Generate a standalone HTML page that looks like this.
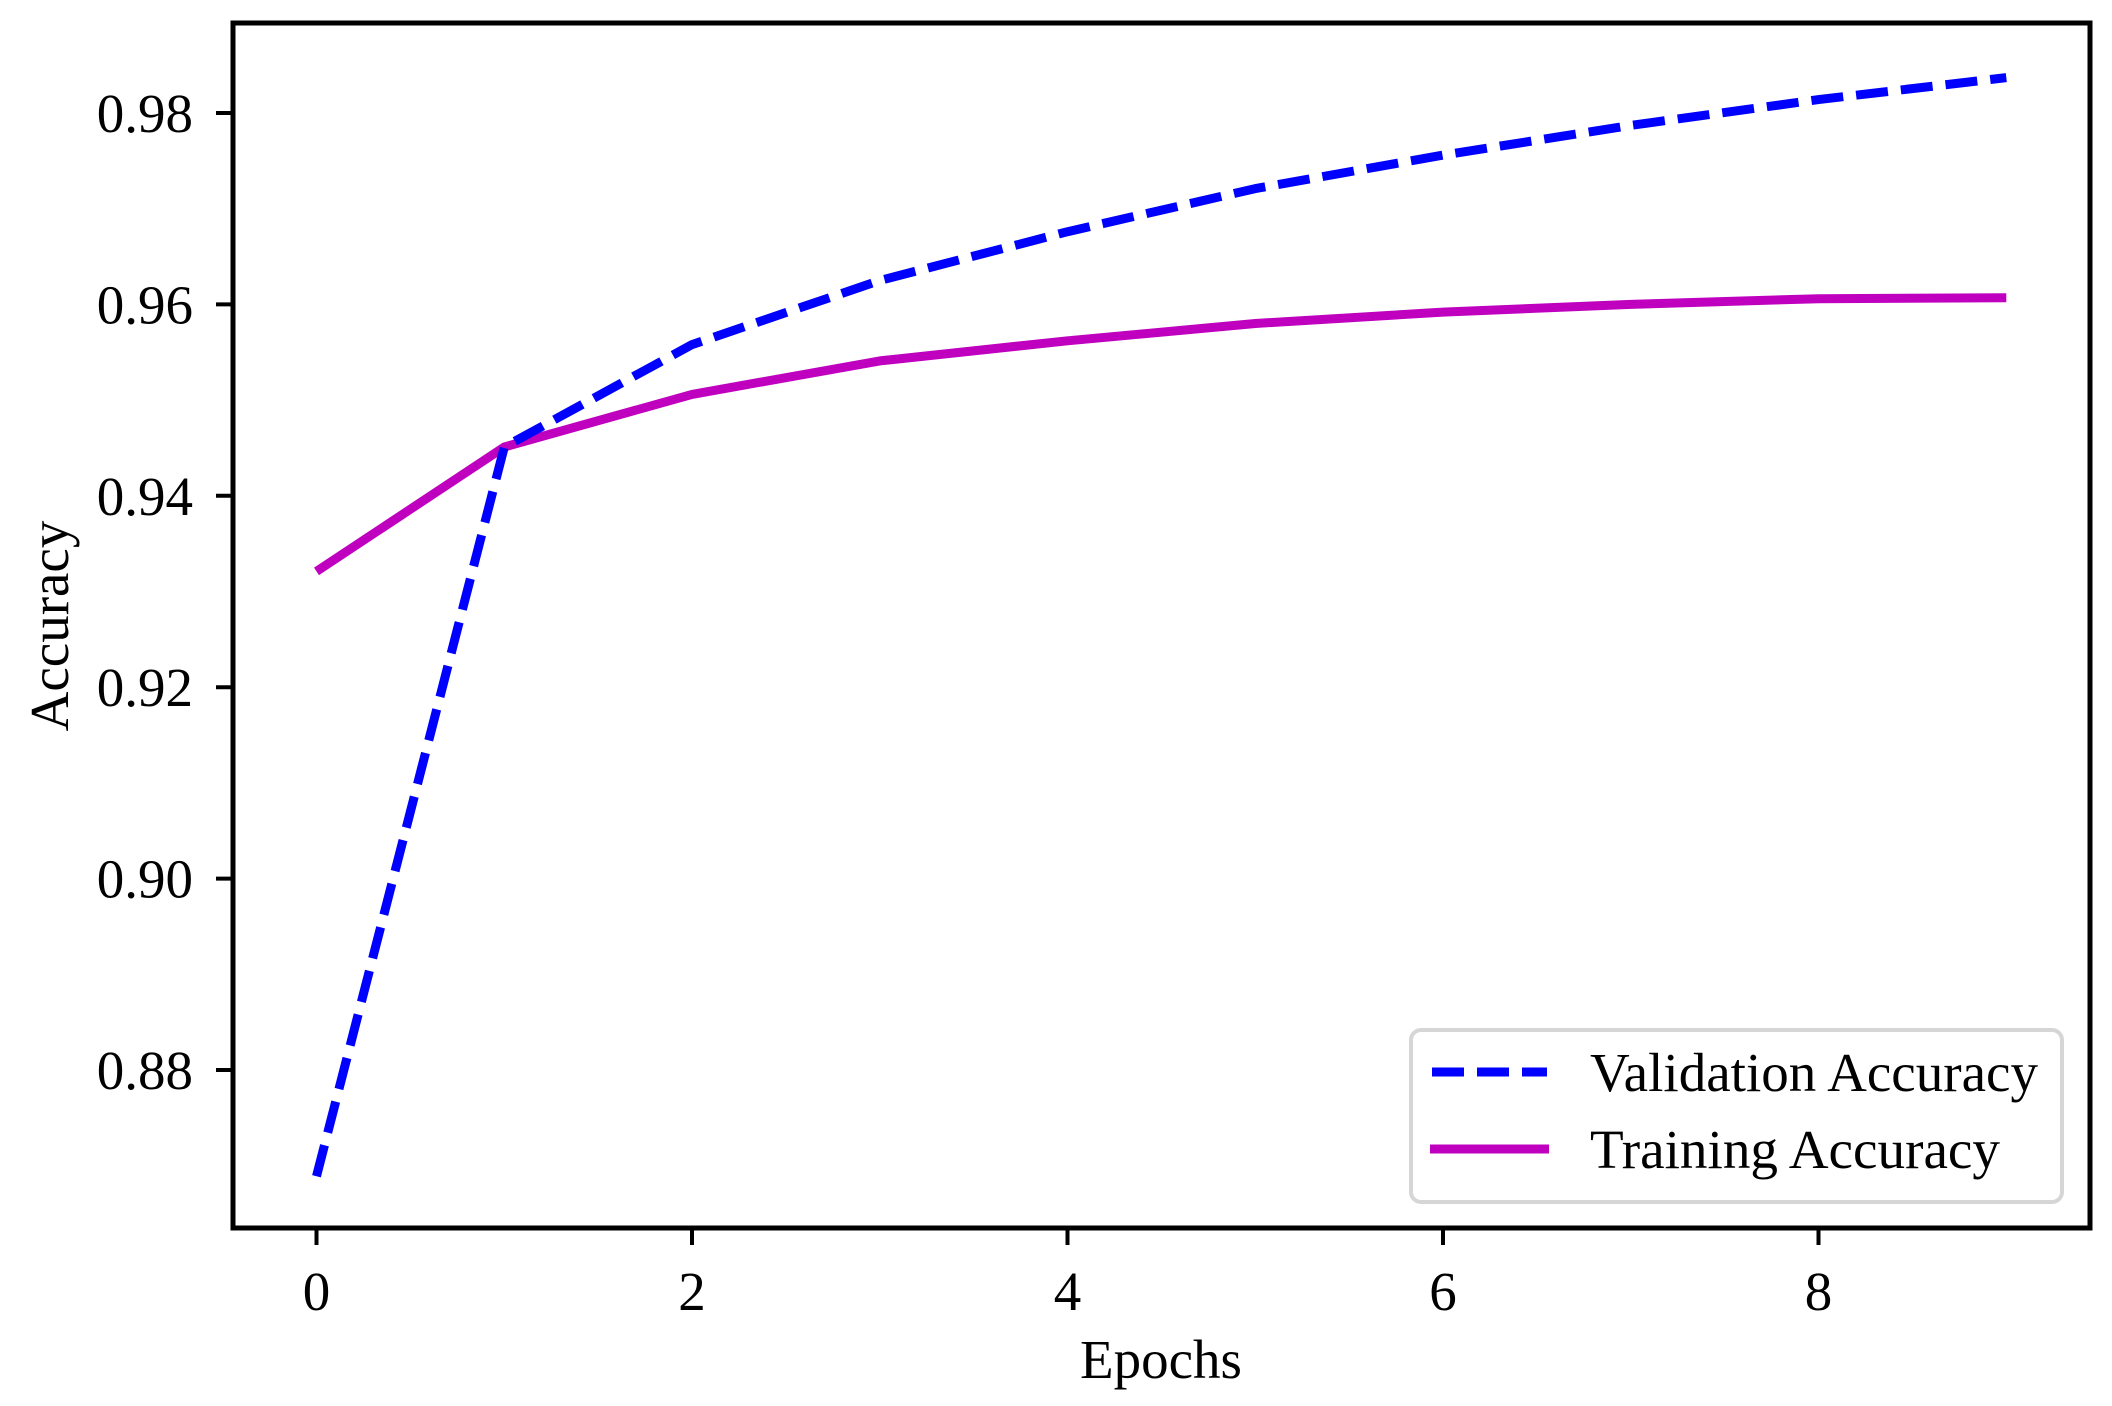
<!DOCTYPE html>
<html><head><meta charset="utf-8"><style>
html,body{margin:0;padding:0;background:#fff;}
svg{display:block;}
text{font-family:"Liberation Serif","DejaVu Serif",serif;fill:#000;}
</style></head><body>
<svg id="chart" width="2112" height="1406" viewBox="0 0 2112 1406" xmlns="http://www.w3.org/2000/svg">
<rect width="2112" height="1406" fill="#fff"/>
<g id="plot"></g>
</svg>
<script>
const epochs=[0,1,2,3,4,5,6,7,8,9];
const validationAcc=[0.8689,0.9451,0.9558,0.9625,0.9676,0.9721,0.9756,0.9787,0.9814,0.9837];
const trainingAcc=[0.9321,0.9451,0.9506,0.9541,0.9562,0.9580,0.9592,0.9600,0.9606,0.9607];
const xTicks=[0,2,4,6,8];
const yTicks=[0.88,0.90,0.92,0.94,0.96,0.98];
const yTickLabels=["0.88","0.90","0.92","0.94","0.96","0.98"];

const L=233,R=2090,T=23,B=1228;
function xs(v){return 316.5+(v-0)*187.75;}
function ys(v){return 113+(0.98-v)*9570;}
const NS="http://www.w3.org/2000/svg";
const g=document.getElementById('plot');
function el(tag,attrs,parent){const e=document.createElementNS(NS,tag);for(const k in attrs)e.setAttribute(k,attrs[k]);(parent||g).appendChild(e);return e;}

function line(data,color,dash,name){
  const pts=data.map((v,i)=>xs(epochs[i]).toFixed(1)+','+ys(v).toFixed(1)).join(' ');
  const p=el('polyline',{points:pts,fill:'none',stroke:color,'stroke-width':9,'stroke-dasharray':dash||'none','stroke-linecap':'butt','stroke-linejoin':'round'});
  
  
}
line(trainingAcc,'#bf00bf',null,'training-accuracy-line');
line(validationAcc,'#0000ff','32,13','validation-accuracy-line');

const frame=el('rect',{x:L,y:T,width:R-L,height:B-T,fill:'none',stroke:'#000','stroke-width':5});



xTicks.forEach(v=>{
  const x=xs(v);
  const t=el('line',{x1:x,y1:B,x2:x,y2:B+17,stroke:'#000','stroke-width':4});
  
  
  const tx=el('text',{x:x,y:1310,'font-size':55,'text-anchor':'middle'});
  tx.textContent=String(v);
  
  
});
yTicks.forEach((v,i)=>{
  const y=ys(v);
  const t=el('line',{x1:L-17,y1:y,x2:L,y2:y,stroke:'#000','stroke-width':4});
  
  
  const tx=el('text',{x:193,y:y+19,'font-size':55,'text-anchor':'end'});
  tx.textContent=yTickLabels[i];
  
  
});
const xt=el('text',{x:1161,y:1378,'font-size':55,'text-anchor':'middle'});
xt.textContent='Epochs';


const yt=el('text',{x:0,y:0,'font-size':55,'text-anchor':'middle',transform:'translate(68,626) rotate(-90)'});
yt.textContent='Accuracy';



const lg=el('g',{});


el('rect',{x:1411,y:1030,width:651,height:172,rx:10,fill:'#fff','fill-opacity':0.8,stroke:'#d6d6d6','stroke-width':4},lg);
const l1=el('line',{x1:1432,y1:1072,x2:1547,y2:1072,stroke:'#0000ff','stroke-width':9,'stroke-dasharray':'32,13'},lg);


const t1=el('text',{x:1590,y:1091,'font-size':55,textLength:448,lengthAdjust:'spacingAndGlyphs'},lg);
t1.textContent='Validation Accuracy';


const l2=el('line',{x1:1430,y1:1149,x2:1549,y2:1149,stroke:'#bf00bf','stroke-width':9},lg);


const t2=el('text',{x:1590,y:1168,'font-size':55,textLength:410,lengthAdjust:'spacingAndGlyphs'},lg);
t2.textContent='Training Accuracy';


</script>
</body></html>
